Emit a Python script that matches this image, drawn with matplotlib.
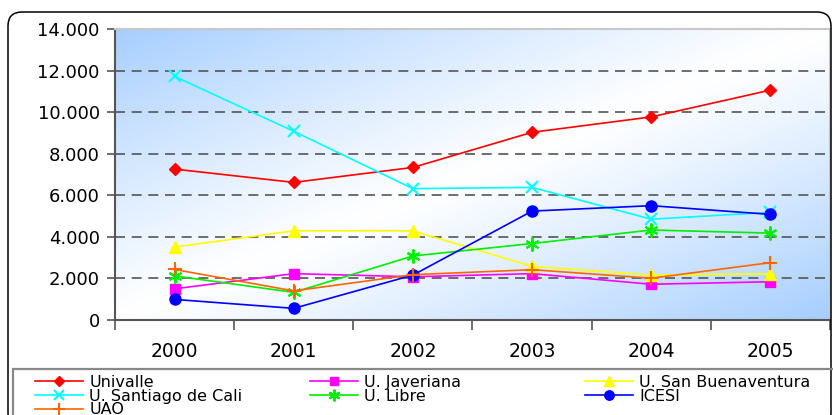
import numpy as np
import matplotlib
matplotlib.use("Agg")
import matplotlib.pyplot as plt
from matplotlib.colors import LinearSegmentedColormap
from matplotlib.patches import FancyBboxPatch, Rectangle
from matplotlib.ticker import FuncFormatter

plt.rcParams['font.family'] = ['DejaVu Sans']

# data
years = ['2000', '2001', '2002', '2003', '2004', '2005']
univalle = [7260, 6620, 7340, 9030, 9770, 11060]
javeriana = [1500, 2230, 2080, 2230, 1720, 1840]
san_buenaventura = [3510, 4290, 4290, 2580, 2160, 2220]
santiago = [11720, 9080, 6320, 6380, 4850, 5180]
libre = [2120, 1330, 3080, 3680, 4330, 4180]
icesi = [990, 560, 2160, 5240, 5500, 5080]
uao = [2430, 1400, 2180, 2420, 2010, 2760]

series = [
    ("Univalle", univalle, "#ff0000", "D", 6),
    ("U. Javeriana", javeriana, "#ff00ff", "s", 7),
    ("U. San Buenaventura", san_buenaventura, "#ffff00", "^", 9),
    ("U. Santiago de Cali", santiago, "#00ffff", "x", 9),
    ("U. Libre", libre, "#00ee00", (6, 2, 0), 10),
    ("ICESI", icesi, "#0000ff", "o", 8),
    ("UAO", uao, "#ff6600", "+", 10),
]

fig = plt.figure(figsize=(8.33, 4.15), dpi=100)
ax = fig.add_axes([115/833, 1 - 320/415, 715/833, 291/415])

# gradient background: blue corners top-left / bottom-right, white diagonal
gx, gy = np.meshgrid(np.linspace(0, 1, 300), np.linspace(1, 0, 200))
t = np.abs(gx - gy) ** 1.1
cmap = LinearSegmentedColormap.from_list("bg", ["#ffffff", "#a6ceff"])
ax.imshow(t, cmap=cmap, extent=[0, 1, 0, 1], transform=ax.transAxes,
          aspect='auto', zorder=0, interpolation='bilinear')

x = np.arange(len(years))
handles = {}
for name, vals, col, mk, ms in series:
    h, = ax.plot(x, vals, color=col, lw=1.2, marker=mk, markersize=ms,
                 markeredgewidth=1.5 if mk in ("x", "+") or isinstance(mk, tuple) else 1,
                 markeredgecolor=col, markerfacecolor=col, zorder=3)
    handles[name] = h

ax.set_xlim(-0.5, 5.5)
ax.set_ylim(0, 14000)
ax.set_yticks(range(0, 14001, 2000))
ax.yaxis.set_major_formatter(FuncFormatter(lambda v, p: f"{int(v):,}".replace(",", ".")))
ax.tick_params(axis='y', labelsize=13, length=6, width=1.2, color='#555555', pad=5)
ax.set_xticks(x)
ax.set_xticklabels(years)
ax.set_xticks(np.arange(-0.5, 6, 1), minor=True)
ax.tick_params(axis='x', which='major', length=0, labelsize=13.5, pad=16)
ax.tick_params(axis='x', which='minor', length=7, width=1.2, color='#555555')

for v in range(2000, 14000, 2000):
    ax.axhline(v, color='#555555', lw=1.2, ls=(0, (6, 4)), zorder=1)

for s in ('left', 'bottom'):
    ax.spines[s].set_color('#555555')
    ax.spines[s].set_linewidth(1.5)
for s in ('top', 'right'):
    ax.spines[s].set_color('#c8c8c8')
    ax.spines[s].set_linewidth(1.5)

# outer rounded border and legend frame (pixel coords)
fig.patches.append(FancyBboxPatch((8, -12), 823, 415, boxstyle="round,pad=0,rounding_size=14",
                                  transform=None, fill=False, ec='black', lw=1.1))
fig.patches.append(Rectangle((13, -10), 830, 56, transform=None, fill=False,
                             ec='#888888', lw=1.6))

columns = [
    ["Univalle", "U. Santiago de Cali", "UAO"],
    ["U. Javeriana", "U. Libre"],
    ["U. San Buenaventura", "ICESI"],
]
col_x = [35, 310, 585]
for names, cx in zip(columns, col_x):
    fig.legend([handles[n] for n in names], names, loc='upper left',
               bbox_to_anchor=(cx/833, 1 - 375/415), frameon=False, borderpad=0,
               borderaxespad=0, handlelength=3.0, handletextpad=0.4,
               labelspacing=-0.08, fontsize=11.5, markerscale=0.85)

fig.savefig("out.png", dpi=100)
